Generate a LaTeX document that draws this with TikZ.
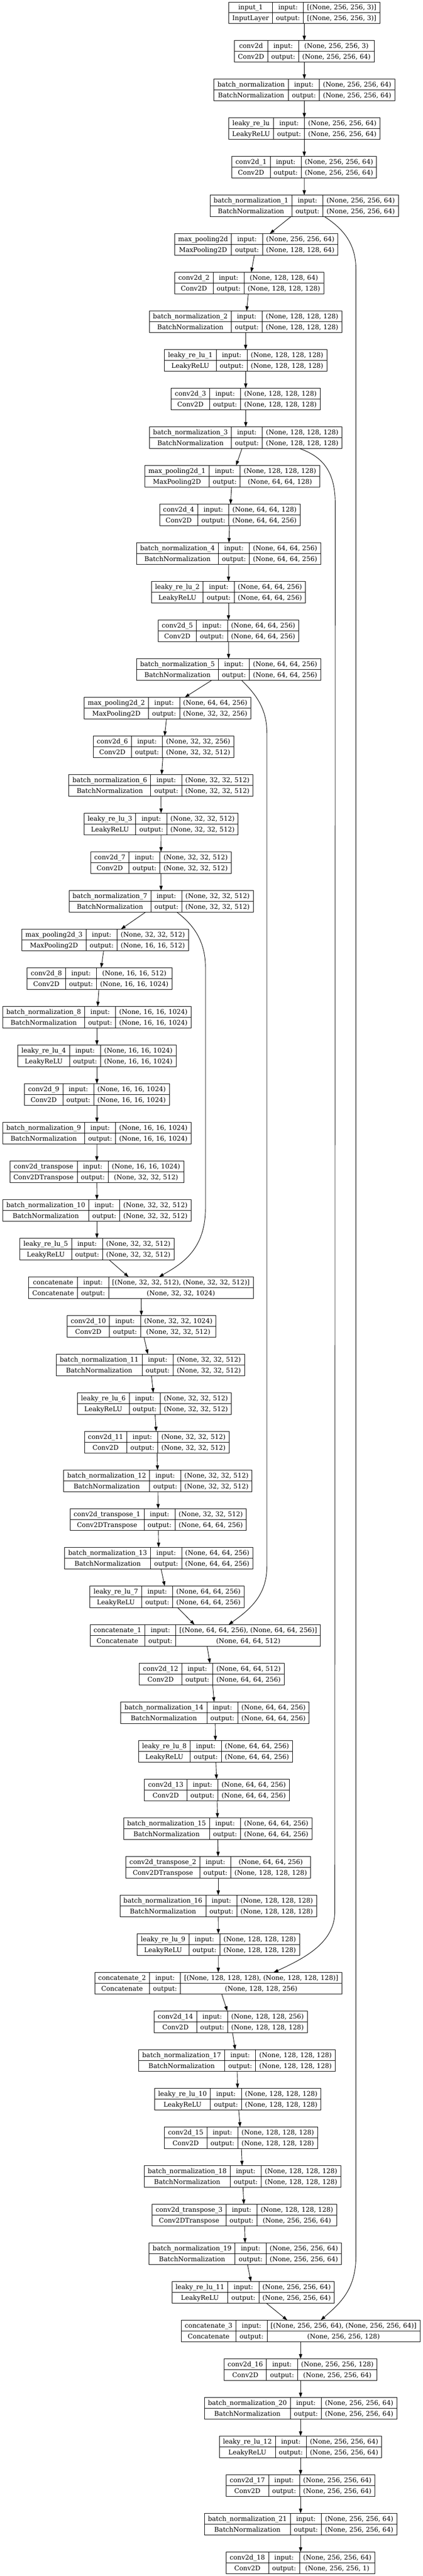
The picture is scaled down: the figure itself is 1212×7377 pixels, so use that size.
\documentclass[tikz,border=0pt]{standalone}
\usepackage{fontspec}
\setmainfont{DejaVu Serif}
\usetikzlibrary{arrows.meta,calc}
\setlength{\arrayrulewidth}{1pt}
\setlength{\tabcolsep}{7.67pt}
\newcommand\rowstrut{\rule[-6.5pt]{0pt}{22.5pt}}
\newcommand\mklayer[7]{\node[rec] (#1) at (#2,{36.5+110.65*#3}) {\begin{tabular}{c|c|c}\rowstrut #4 & input: & #6\\\hline\rowstrut #5 & output: & #7\end{tabular}};}
\tikzset{
  rec/.style={draw=black, line width=1pt, inner sep=0pt, fill=white, font=\fontsize{14pt}{16.8pt}\selectfont},
  edgeline/.style={-{Triangle[length=10pt,width=7pt]}, line width=1pt, black},
}
\begin{document}
\begin{tikzpicture}[x=0.75pt,y=-0.75pt]
\fill[white] (0,0) rectangle (1212,7377);
\useasboundingbox (0,0) rectangle (1212,7377);
\def\ssa{(None, 256, 256, 64)}
\def\ssb{(None, 128, 128, 128)}
\def\ssc{(None, 64, 64, 256)}
\def\ssd{(None, 32, 32, 512)}
\def\sse{(None, 16, 16, 1024)}
\mklayer{n0}{872.5}{0}{input\_1}{InputLayer}{[(None, 256, 256, 3)]}{[(None, 256, 256, 3)]}
\mklayer{n1}{872.4}{1}{conv2d}{Conv2D}{(None, 256, 256, 3)}{\ssa}
\mklayer{n2}{872.7}{2}{batch\_normalization}{BatchNormalization}{\ssa}{\ssa}
\mklayer{n3}{872.4}{3}{leaky\_re\_lu}{LeakyReLU}{\ssa}{\ssa}
\mklayer{n4}{872.4}{4}{conv2d\_1}{Conv2D}{\ssa}{\ssa}
\mklayer{n5}{872.3}{5}{batch\_normalization\_1}{BatchNormalization}{\ssa}{\ssa}
\mklayer{n6}{734.7}{6}{max\_pooling2d}{MaxPooling2D}{\ssa}{(None, 128, 128, 64)}
\mklayer{n7}{714.6}{7}{conv2d\_2}{Conv2D}{(None, 128, 128, 64)}{\ssb}
\mklayer{n8}{704.2}{8}{batch\_normalization\_2}{BatchNormalization}{\ssb}{\ssb}
\mklayer{n9}{704.2}{9}{leaky\_re\_lu\_1}{LeakyReLU}{\ssb}{\ssb}
\mklayer{n10}{704.6}{10}{conv2d\_3}{Conv2D}{\ssb}{\ssb}
\mklayer{n11}{704.6}{11}{batch\_normalization\_3}{BatchNormalization}{\ssb}{\ssb}
\mklayer{n12}{665.9}{12}{max\_pooling2d\_1}{MaxPooling2D}{\ssb}{(None, 64, 64, 128)}
\mklayer{n13}{659.0}{13}{conv2d\_4}{Conv2D}{(None, 64, 64, 128)}{\ssc}
\mklayer{n14}{655.5}{14}{batch\_normalization\_4}{BatchNormalization}{\ssc}{\ssc}
\mklayer{n15}{655.1}{15}{leaky\_re\_lu\_2}{LeakyReLU}{\ssc}{\ssc}
\mklayer{n16}{655.1}{16}{conv2d\_5}{Conv2D}{\ssc}{\ssc}
\mklayer{n17}{655.5}{17}{batch\_normalization\_5}{BatchNormalization}{\ssc}{\ssc}
\mklayer{n18}{480.4}{18}{max\_pooling2d\_2}{MaxPooling2D}{\ssc}{(None, 32, 32, 256)}
\mklayer{n19}{468.8}{19}{conv2d\_6}{Conv2D}{(None, 32, 32, 256)}{\ssd}
\mklayer{n20}{461.5}{20}{batch\_normalization\_6}{BatchNormalization}{\ssd}{\ssd}
\mklayer{n21}{461.9}{21}{leaky\_re\_lu\_3}{LeakyReLU}{\ssd}{\ssd}
\mklayer{n22}{461.5}{22}{conv2d\_7}{Conv2D}{\ssd}{\ssd}
\mklayer{n23}{461.9}{23}{batch\_normalization\_7}{BatchNormalization}{\ssd}{\ssd}
\mklayer{n24}{301.5}{24}{max\_pooling2d\_3}{MaxPooling2D}{\ssd}{(None, 16, 16, 512)}
\mklayer{n25}{285.6}{25}{conv2d\_8}{Conv2D}{(None, 16, 16, 512)}{\sse}
\mklayer{n26}{277.9}{26}{batch\_normalization\_8}{BatchNormalization}{\sse}{\sse}
\mklayer{n27}{277.9}{27}{leaky\_re\_lu\_4}{LeakyReLU}{\sse}{\sse}
\mklayer{n28}{277.9}{28}{conv2d\_9}{Conv2D}{\sse}{\sse}
\mklayer{n29}{277.9}{29}{batch\_normalization\_9}{BatchNormalization}{\sse}{\sse}
\mklayer{n30}{277.5}{30}{conv2d\_transpose}{Conv2DTranspose}{\sse}{\ssd}
\mklayer{n31}{277.9}{31}{batch\_normalization\_10}{BatchNormalization}{\ssd}{\ssd}
\mklayer{n32}{277.9}{32}{leaky\_re\_lu\_5}{LeakyReLU}{\ssd}{\ssd}
\mklayer{n33}{404.3}{33}{concatenate}{Concatenate}{[(None, 32, 32, 512), (None, 32, 32, 512)]}{(None, 32, 32, 1024)}
\mklayer{n34}{405.8}{34}{conv2d\_10}{Conv2D}{(None, 32, 32, 1024)}{\ssd}
\mklayer{n35}{431.0}{35}{batch\_normalization\_11}{BatchNormalization}{\ssd}{\ssd}
\mklayer{n36}{442.9}{36}{leaky\_re\_lu\_6}{LeakyReLU}{\ssd}{\ssd}
\mklayer{n37}{449.5}{37}{conv2d\_11}{Conv2D}{\ssd}{\ssd}
\mklayer{n38}{452.6}{38}{batch\_normalization\_12}{BatchNormalization}{\ssd}{\ssd}
\mklayer{n39}{453.7}{39}{conv2d\_transpose\_1}{Conv2DTranspose}{\ssd}{\ssc}
\mklayer{n40}{455.3}{40}{batch\_normalization\_13}{BatchNormalization}{\ssc}{\ssc}
\mklayer{n41}{478.9}{41}{leaky\_re\_lu\_7}{LeakyReLU}{\ssc}{\ssc}
\mklayer{n42}{588.6}{42}{concatenate\_1}{Concatenate}{[(None, 64, 64, 256), (None, 64, 64, 256)]}{(None, 64, 64, 512)}
\mklayer{n43}{607.2}{43}{conv2d\_12}{Conv2D}{(None, 64, 64, 512)}{\ssc}
\mklayer{n44}{616.5}{44}{batch\_normalization\_14}{BatchNormalization}{\ssc}{\ssc}
\mklayer{n45}{618.0}{45}{leaky\_re\_lu\_8}{LeakyReLU}{\ssc}{\ssc}
\mklayer{n46}{621.9}{46}{conv2d\_13}{Conv2D}{\ssc}{\ssc}
\mklayer{n47}{624.2}{47}{batch\_normalization\_15}{BatchNormalization}{\ssc}{\ssc}
\mklayer{n48}{625.7}{48}{conv2d\_transpose\_2}{Conv2DTranspose}{\ssc}{\ssb}
\mklayer{n49}{625.7}{49}{batch\_normalization\_16}{BatchNormalization}{\ssb}{\ssb}
\mklayer{n50}{626.1}{50}{leaky\_re\_lu\_9}{LeakyReLU}{\ssb}{\ssb}
\mklayer{n51}{625.7}{51}{concatenate\_2}{Concatenate}{[(None, 128, 128, 128), (None, 128, 128, 128)]}{(None, 128, 128, 256)}
\mklayer{n52}{661.7}{52}{conv2d\_14}{Conv2D}{(None, 128, 128, 256)}{\ssb}
\mklayer{n53}{679.4}{53}{batch\_normalization\_17}{BatchNormalization}{\ssb}{\ssb}
\mklayer{n54}{681.8}{54}{leaky\_re\_lu\_10}{LeakyReLU}{\ssb}{\ssb}
\mklayer{n55}{691.0}{55}{conv2d\_15}{Conv2D}{\ssb}{\ssb}
\mklayer{n56}{695.3}{56}{batch\_normalization\_18}{BatchNormalization}{\ssb}{\ssb}
\mklayer{n57}{700.7}{57}{conv2d\_transpose\_3}{Conv2DTranspose}{\ssb}{\ssa}
\mklayer{n58}{703.4}{58}{batch\_normalization\_19}{BatchNormalization}{\ssa}{\ssa}
\mklayer{n59}{725.8}{59}{leaky\_re\_lu\_11}{LeakyReLU}{\ssa}{\ssa}
\mklayer{n60}{861.9}{60}{concatenate\_3}{Concatenate}{[(None, 256, 256, 64), (None, 256, 256, 64)]}{(None, 256, 256, 128)}
\mklayer{n61}{861.9}{61}{conv2d\_16}{Conv2D}{(None, 256, 256, 128)}{\ssa}
\mklayer{n62}{861.9}{62}{batch\_normalization\_20}{BatchNormalization}{\ssa}{\ssa}
\mklayer{n63}{861.9}{63}{leaky\_re\_lu\_12}{LeakyReLU}{\ssa}{\ssa}
\mklayer{n64}{861.9}{64}{conv2d\_17}{Conv2D}{\ssa}{\ssa}
\mklayer{n65}{861.9}{65}{batch\_normalization\_21}{BatchNormalization}{\ssa}{\ssa}
\mklayer{n66}{861.9}{66}{conv2d\_18}{Conv2D}{\ssa}{(None, 256, 256, 1)}
% main chain
\foreach \i [evaluate=\i as \j using int(\i+1)] in {0,...,65} {
  \draw[edgeline] (n\i) -- (n\j);
}
% skip connections
\draw[edgeline] ($(n5.south)+(59.2,0)$) .. controls (975,650) and (1020.3,690) .. (1020.3,770)
  -- (1020.3,6463) .. controls (1020.3,6560) and (970,6600) .. ($(n60.north)+(57.9,0)$);
\draw[edgeline] ($(n11.south)+(155.7,0)$) .. controls (915,1305) and (961,1340) .. (961,1440)
  -- (960,5474) .. controls (960,5560) and (880,5605) .. ($(n51.north)+(158.9,0)$);
\draw[edgeline] ($(n17.south)+(37.9,0)$) .. controls (735,1990) and (765.3,2030) .. (765.3,2100)
  -- (765.3,4485) .. controls (765.3,4570) and (715,4610) .. ($(n42.north)+(66.9,0)$);
\draw[edgeline] ($(n23.south)+(46,0)$) .. controls (550,2645) and (589,2690) .. (589,2770)
  -- (589,3460) .. controls (589,3580) and (520,3620) .. ($(n33.north)+(51.7,0)$);
\end{tikzpicture}
\end{document}
